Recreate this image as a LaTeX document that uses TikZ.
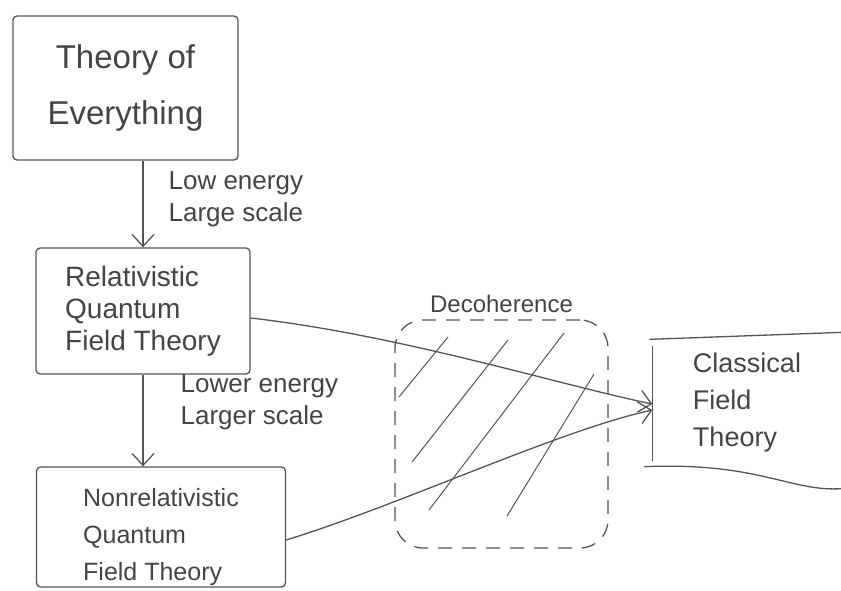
\documentclass[tikz,border=0pt]{standalone}
\usepackage{fontspec}
\setmainfont{Liberation Sans}
\usepackage{xcolor}
\usetikzlibrary{arrows.meta}
\usetikzlibrary{positioning}
\definecolor{pen}{HTML}{555555}

\begin{document}
\begin{tikzpicture}[x=1pt, y=-1pt, line width=1.3pt, draw=pen, text=pen!80!black,
	box/.style={draw, rounded corners=4pt, align=left, inner sep=0pt},
	lbl/.style={align=left, anchor=west, inner sep=0pt, font=\fontsize{26}{32}\selectfont},
	arrow/.style={-{Straight Barb[length=12pt, width=22pt, line width=1.3pt]}}]
	\useasboundingbox (0,0) rectangle (841,590);
	% Nodes
	\node[box, minimum width=225pt, minimum height=144pt, font=\fontsize{33}{56}\selectfont, align=center] (toe) at (125.5,88) {Theory of\\Everything};
	\node[box, minimum width=214pt, minimum height=126pt, font=\fontsize{28}{32}\selectfont] (rqft) at (143,311) {Relativistic\\Quantum\\Field Theory};
	\node[box, minimum width=249pt, minimum height=120pt, font=\fontsize{25}{37}\selectfont, text height=106pt, text depth=0pt] (nrqft) at (161,527) {Nonrelativistic\\Quantum\\Field Theory};
	\node[align=left, minimum width=188pt, minimum height=130pt, inner sep=0pt, font=\fontsize{27}{37}\selectfont] (cft) at (747,403) {Classical\\Field\\Theory};
	\node[draw, dashed, dash pattern=on 14pt off 10pt, rounded corners=28pt, minimum width=213pt, minimum height=228pt] (deco) at (501.5,434) {};
	\node[above=6pt of deco, inner sep=0pt, font=\fontsize{24}{28}\selectfont] (decolbl) {Decoherence};
	\node[lbl] (step1) at (168,199) {Low energy\\Large scale};
	\node[lbl] (step2) at (180,402) {Lower energy\\Larger scale};
	% Edges
	\draw[arrow] (rqft.north |- toe.south) -- (rqft.north);
	\draw[arrow] (rqft.south) -- (rqft.south |- nrqft.north);
	\draw[arrow] ([yshift=-7pt]rqft.east) .. controls (400,335) and (560,385) .. ([yshift=-1pt]cft.west);
	\draw[arrow] ([yshift=-13pt]nrqft.east) .. controls (400,505) and (560,430) .. ([yshift=-7pt]cft.west);
	% Hatching
	\draw[line width=1pt] (448,337) -- (399,397);
	\draw[line width=1pt] (508,340) -- (412,462);
	\draw[line width=1pt] (564,333) -- (429,510);
	\draw[line width=1pt] (594,374) -- (507,516);
	% Open box round the classical theory
	\draw ([yshift=-9pt]cft.north west) -- ([yshift=8pt]cft.south west);
	\draw ([xshift=-3pt, yshift=-2pt]cft.north west) -- ([yshift=5pt]cft.north east);
	\draw ([xshift=-8pt, yshift=2pt]cft.south west) .. controls (760,462) and (790,492) .. ([yshift=-20pt]cft.south east);
\end{tikzpicture}
\end{document}
